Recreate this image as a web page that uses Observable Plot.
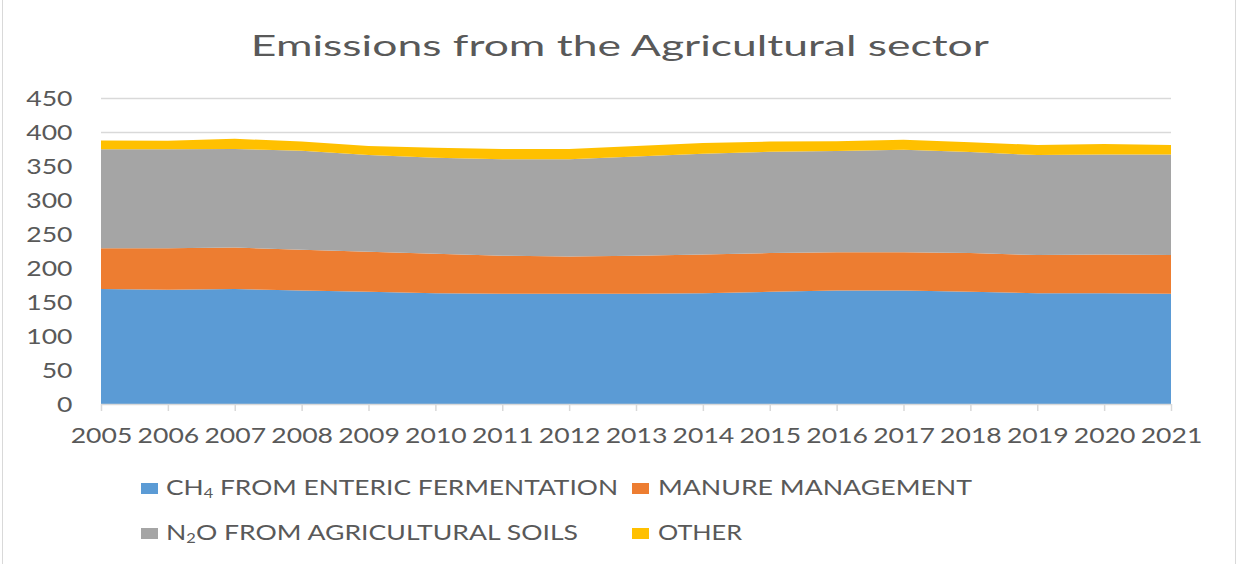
<!DOCTYPE html>
<html><head><meta charset="utf-8">
<script src="https://cdn.jsdelivr.net/npm/d3@7"></script>
<script src="https://cdn.jsdelivr.net/npm/@observablehq/plot@0.6"></script>
<style>
body{margin:0;background:#fff;}
#chart{position:relative;width:1239px;height:564px;overflow:hidden;font-family:Lato,sans-serif;color:#595959;background:#fff;}
#frame{position:absolute;left:2px;top:0;width:1234px;height:564px;border-left:1px solid #d9d9d9;border-right:1px solid #d9d9d9;box-sizing:border-box;}
#title{position:absolute;left:0;top:27px;width:1239px;text-align:center;font-size:29px;line-height:35px;white-space:nowrap;}
#title span{display:inline-block;transform-origin:center;}
.leg{position:absolute;font-size:21px;line-height:25px;white-space:nowrap;transform-origin:left center;}
.leg sub{font-size:13px;vertical-align:-3px;line-height:0;}
.sw{position:absolute;width:17px;height:11px;}
#plot{position:absolute;left:0;top:0;}
</style>
</head><body>
<div id="chart">
  <div id="frame"></div>
  <div id="plot"></div>
  <div id="title"><span>Emissions from the Agricultural sector</span></div>
  <div id="legend"></div>
</div>
<script>
const years = [2005,2006,2007,2008,2009,2010,2011,2012,2013,2014,2015,2016,2017,2018,2019,2020,2021];
const ch4Enteric = [169,168,169,167,165,163,162,162,162,163,165,167,167,165,163,163,162];
const manureMgmt = [60,61,61,60,59,58,56,55,56,57,57,56,56,57,56,57,57];
const n2oSoils   = [145.5,145.5,145,145.5,142,141,142,143,146,148,149,149,151,148.5,147,147,148];
const other      = [13,12.5,15,13.5,13.5,15,15,15,15.5,16,15,14.5,14.5,14.5,15,15.5,14];
const seriesNames = ["CH4 FROM ENTERIC FERMENTATION","MANURE MANAGEMENT","N2O FROM AGRICULTURAL SOILS","OTHER"];
const legendHtml = ["CH<sub>4</sub> FROM ENTERIC FERMENTATION","MANURE MANAGEMENT","N<sub>2</sub>O FROM AGRICULTURAL SOILS","OTHER"];
const seriesColors = ["#5b9bd5","#ed7d31","#a5a5a5","#ffc000"];
const yTicks = [0,50,100,150,200,250,300,350,400,450];

const seriesValues = [ch4Enteric, manureMgmt, n2oSoils, other];
const data = [];
seriesNames.forEach((s, i) => years.forEach((y, j) => data.push({series: s, year: y, value: seriesValues[i][j]})));

const plot = Plot.plot({
  width: 1239, height: 460,
  marginTop: 98, marginBottom: 56, marginLeft: 101, marginRight: 68,
  style: {fontFamily: "Lato, sans-serif", fontSize: "22px", color: "#595959", background: "transparent"},
  x: {domain: [2005, 2021], label: null},
  y: {domain: [0, 450], label: null},
  color: {domain: seriesNames, range: seriesColors},
  marks: [
    Plot.gridY(yTicks.filter(d => d > 0), {stroke: "#d9d9d9", strokeOpacity: 1, strokeWidth: 1.5}),
    Plot.areaY(data, {x: "year", y: "value", fill: "series"}),
    Plot.ruleY([0], {stroke: "#d9d9d9", strokeWidth: 1.5}),
    Plot.axisX({ticks: years, tickFormat: "d", tickSize: 7, tickPadding: 16, stroke: "#d9d9d9", strokeOpacity: 1, strokeWidth: 1.5, fill: "#595959", fontSize: 22, label: null}),
    Plot.axisY({ticks: yTicks, tickSize: 0, tickPadding: 29, fill: "#595959", fontSize: 22, label: null})
  ]
});
document.getElementById("plot").appendChild(plot);

// horizontal stretch of the tick labels, as in the reference
const texts = plot.querySelectorAll("g[aria-label$='tick label'] text");
let k = 1;
texts.forEach(t => { if (t.textContent === "2005") k = 61.7 / t.getComputedTextLength(); });
texts.forEach(t => {
  const L = t.getComputedTextLength();
  t.setAttribute("textLength", (L * k).toFixed(2));
  t.setAttribute("lengthAdjust", "spacingAndGlyphs");
});

// title fit
const ts = document.querySelector("#title span");
ts.style.transform = `scaleX(${738 / ts.getBoundingClientRect().width})`;

// legend
const legLayout = [
  {sx: 141, tx: 166, top: 474, w: 452},
  {sx: 632, tx: 658, top: 474, w: 314},
  {sx: 141, tx: 166, top: 519, w: 412},
  {sx: 632, tx: 658, top: 519, w: 84}
];
const legend = document.getElementById("legend");
seriesNames.forEach((s, i) => {
  const L = legLayout[i];
  const sw = document.createElement("div");
  sw.className = "sw";
  sw.style.left = L.sx + "px";
  sw.style.top = (L.top + 9) + "px";
  sw.style.background = seriesColors[i];
  legend.appendChild(sw);
  const lab = document.createElement("div");
  lab.className = "leg";
  lab.style.left = L.tx + "px";
  lab.style.top = L.top + "px";
  lab.innerHTML = legendHtml[i];
  legend.appendChild(lab);
  lab.style.transform = `scaleX(${L.w / lab.getBoundingClientRect().width})`;
});
</script>
</body></html>
